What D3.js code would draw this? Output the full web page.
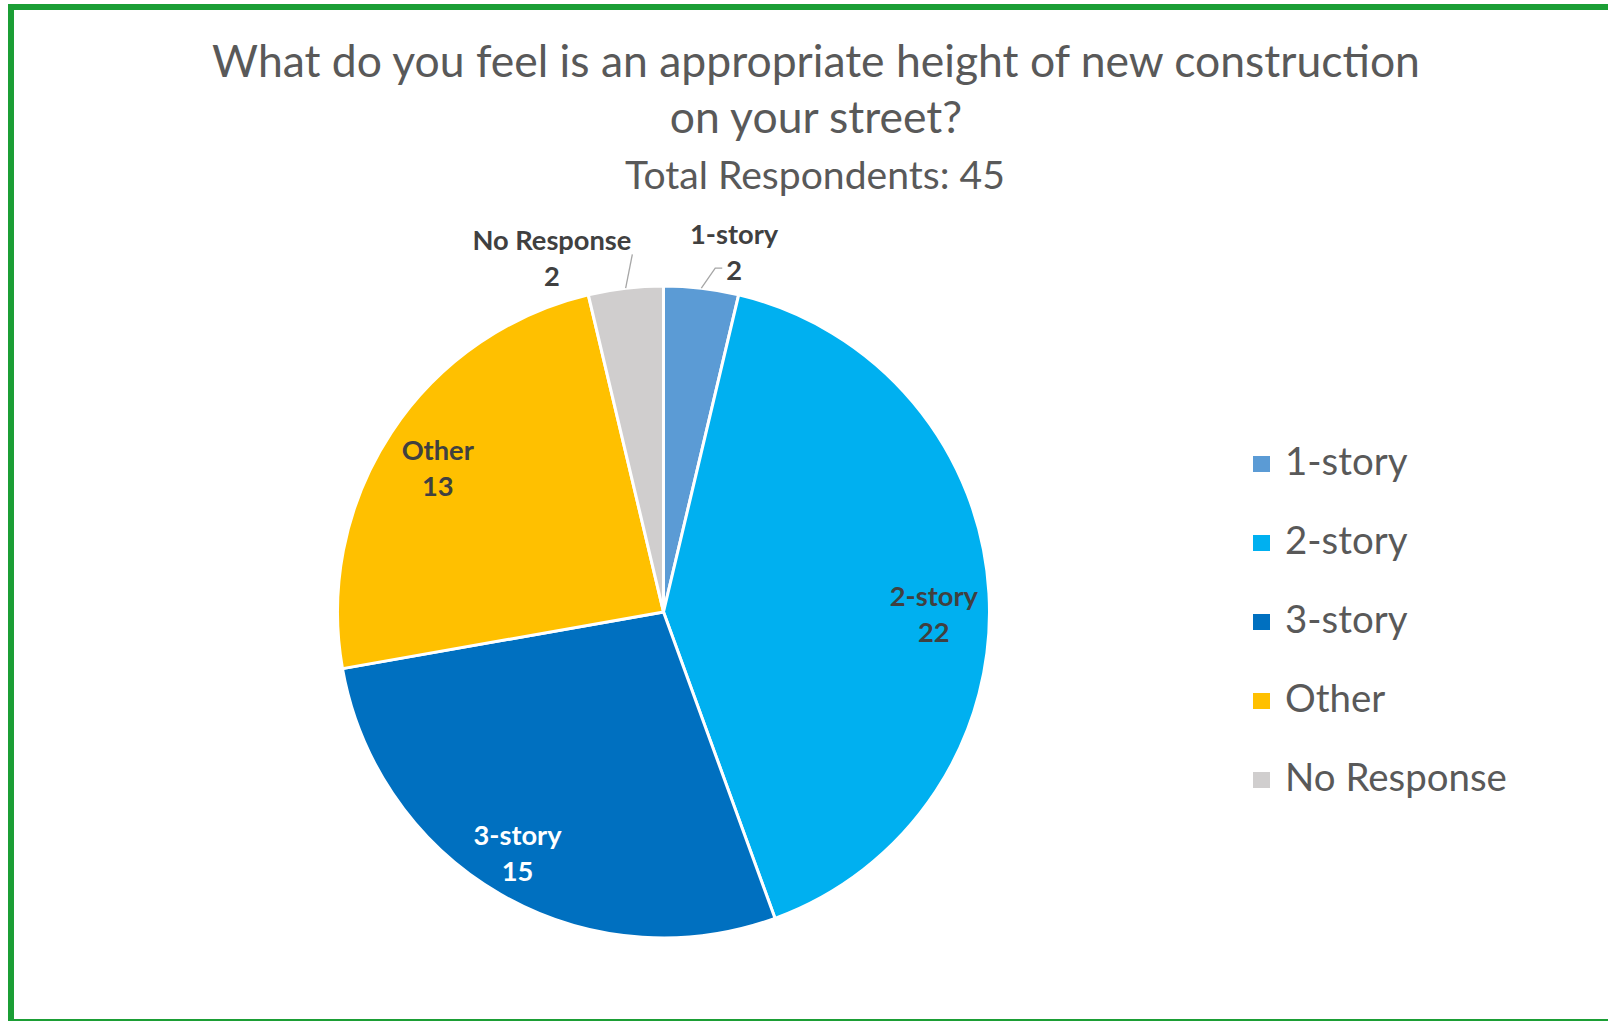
<!DOCTYPE html>
<html><head><meta charset="utf-8">
<script src="https://cdn.jsdelivr.net/npm/d3@7"></script>
<style>html,body{margin:0;padding:0;background:#fff;overflow:hidden}</style>
</head><body>
<svg id="chart" width="1608" height="1021"></svg>
<script>
// ---- data ----
const categories = ["1-story", "2-story", "3-story", "Other", "No Response"];
const values = [2, 22, 15, 13, 2];
const colors = ["#5B9BD5", "#00B0F0", "#0070C0", "#FFC000", "#D0CECE"];
const titleLines = ["What do you feel is an appropriate height of new construction", "on your street?"];
const subtitle = "Total Respondents: 45";

// ---- layout ----
const W = 1608, H = 1021;
const cx = 663.5, cy = 612, r = 326;
const svg = d3.select("#chart");
svg.append("rect").attr("width", W).attr("height", H).attr("fill", "#fff");

const green = "#1B9E35";
svg.append("rect").attr("x", 8).attr("y", 4).attr("width", W - 8).attr("height", 6).attr("fill", green);
svg.append("rect").attr("x", 8).attr("y", 4).attr("width", 6).attr("height", H - 4).attr("fill", green);
svg.append("rect").attr("x", 8).attr("y", H - 2).attr("width", W - 8).attr("height", 2).attr("fill", green);

function fitSize(sel, target) {
  const w = sel.node().getComputedTextLength();
  const fs = parseFloat(sel.attr("font-size"));
  return fs * target / w;
}

// ---- title ----
const t1 = svg.append("text").attr("x", 816).attr("y", 77).attr("text-anchor", "middle")
  .attr("font-family", "Lato, sans-serif").attr("font-size", 40).attr("fill", "#595959").text(titleLines[0]);
const tfs = fitSize(t1, 1208);
t1.attr("font-size", tfs);
svg.append("text").attr("x", 816).attr("y", 133).attr("text-anchor", "middle")
  .attr("font-family", "Lato, sans-serif").attr("font-size", tfs).attr("fill", "#595959").text(titleLines[1]);
const st = svg.append("text").attr("x", 815).attr("y", 189).attr("text-anchor", "middle")
  .attr("font-family", "Lato, sans-serif").attr("font-size", 30).attr("fill", "#595959").text(subtitle);
st.attr("font-size", fitSize(st, 380));

// ---- pie ----
const pieData = d3.pie().sort(null).value(d => d)(values);
const arc = d3.arc().innerRadius(0).outerRadius(r);
const g = svg.append("g").attr("transform", `translate(${cx},${cy})`);
g.selectAll("path.slice").data(pieData).join("path")
  .attr("class", "slice")
  .attr("d", arc)
  .attr("fill", (d, i) => colors[i])
  .attr("stroke", "#fff").attr("stroke-width", 3).attr("stroke-linejoin", "round");

// label font size fit
const probe = svg.append("text").attr("font-family", "Lato, sans-serif").attr("font-weight", "bold")
  .attr("font-size", 20).text("No Response");
const lfs = fitSize(probe, 159);
probe.remove();

const total = d3.sum(values);
const labelArc = d3.arc().innerRadius(r * 0.84).outerRadius(r * 0.84);
const lineGap = 36;
// layout nudges (px) for "best fit" label placement
const nudge = { "No Response": [-70, 3], "1-story": [29, -3], "2-story": [-3, 18], "3-story": [-9, 4], "Other": [3, 7] };

pieData.forEach((d, i) => {
  const cat = categories[i];
  const inside = values[i] / total >= 0.1;
  const mid = (d.startAngle + d.endAngle) / 2;
  let x, y;
  if (inside) {
    [x, y] = labelArc.centroid(d);
  } else {
    const R = r * 1.1;
    x = R * Math.sin(mid);
    y = -R * Math.cos(mid);
  }
  x += nudge[cat][0];
  y += nudge[cat][1];
  const fill = cat === "3-story" ? "#ffffff" : "#404040";
  const top = g.append("text").attr("x", x).attr("y", y - lineGap / 2 + lfs * 0.35)
    .attr("text-anchor", "middle").attr("font-family", "Lato, sans-serif").attr("font-weight", "bold")
    .attr("font-size", lfs).attr("fill", fill).text(cat);
  const bot = g.append("text").attr("x", x).attr("y", y + lineGap / 2 + lfs * 0.35)
    .attr("text-anchor", "middle").attr("font-family", "Lato, sans-serif").attr("font-weight", "bold")
    .attr("font-size", lfs).attr("fill", fill).text(values[i]);
  if (!inside) {
    const sx = r * Math.sin(mid), sy = -r * Math.cos(mid);
    let pts;
    if (Math.sin(mid) < 0) {
      const bb = top.node().getBBox();
      pts = [[sx, sy], [bb.x + bb.width + 1, bb.y + bb.height - 2]];
    } else {
      const bb = bot.node().getBBox();
      const ey = bb.y + bb.height * 0.45;
      pts = [[sx, sy], [bb.x - 11, ey], [bb.x - 4, ey]];
    }
    g.append("path").attr("d", d3.line()(pts)).attr("fill", "none")
      .attr("stroke", "#A6A6A6").attr("stroke-width", 1.3);
  }
});

// ---- legend ----
const leg = svg.append("g");
const probe2 = svg.append("text").attr("font-family", "Lato, sans-serif").attr("font-size", 30).text("No Response");
const legFs = fitSize(probe2, 222);
probe2.remove();
categories.forEach((c, i) => {
  const yc = 464 + i * 79;
  leg.append("rect").attr("x", 1253).attr("y", yc - 8).attr("width", 17).attr("height", 16).attr("fill", colors[i]);
  leg.append("text").attr("x", 1285).attr("y", yc + 11).attr("font-family", "Lato, sans-serif")
    .attr("font-size", legFs).attr("fill", "#595959").text(c);
});
</script>
</body></html>
